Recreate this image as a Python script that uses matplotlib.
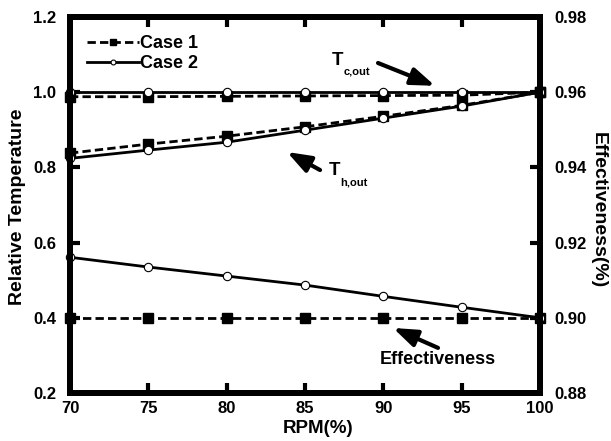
import matplotlib
matplotlib.use("Agg")
import matplotlib.pyplot as plt

plt.rcParams['font.family'] = ['Liberation Sans', 'DejaVu Sans']
plt.rcParams['font.weight'] = 'bold'

rpm = [70, 75, 80, 85, 90, 95, 100]
tc_case1 = [0.988, 0.988, 0.989, 0.990, 0.991, 0.992, 1.000]
tc_case2 = [1.000, 1.000, 1.000, 1.000, 1.000, 1.000, 1.000]
th_case1 = [0.838, 0.862, 0.883, 0.908, 0.936, 0.965, 1.000]
th_case2 = [0.824, 0.846, 0.867, 0.899, 0.931, 0.963, 1.000]
eff_case1 = [0.900, 0.900, 0.900, 0.900, 0.900, 0.900, 0.900]
eff_case2 = [0.9161, 0.9135, 0.9111, 0.9087, 0.9057, 0.9028, 0.900]

x_ticks = [70, 75, 80, 85, 90, 95, 100]
left_ticks = [0.2, 0.4, 0.6, 0.8, 1.0, 1.2]
right_ticks = [0.88, 0.90, 0.92, 0.94, 0.96, 0.98]

fig = plt.figure(figsize=(6.11, 4.41), dpi=100)
ax = fig.add_axes([70/611, 1-393/441, 470/611, 376/441])
ax2 = ax.twinx()

lw = 2.0
dash = (3, 1.5)
c1 = dict(color='black', lw=lw, dashes=dash, marker='s', markersize=6.5,
          markerfacecolor='black', markeredgecolor='black', clip_on=False)
c2 = dict(color='black', lw=lw, linestyle='-', marker='o', markersize=6,
          markerfacecolor='white', markeredgecolor='black', markeredgewidth=0.8,
          clip_on=False)

l1, = ax.plot(rpm, tc_case1, label='Case 1', **c1)
ax.plot(rpm, th_case1, **c1)
l2, = ax.plot(rpm, tc_case2, label='Case 2', **c2)
ax.plot(rpm, th_case2, **c2)
ax2.plot(rpm, eff_case1, **c1)
ax2.plot(rpm, eff_case2, **c2)

ax.set_xlim(70, 100)
ax.set_ylim(0.2, 1.2)
ax2.set_ylim(0.88, 0.98)
ax.set_xticks(x_ticks)
ax.set_xticklabels([str(v) for v in x_ticks])
ax.set_yticks(left_ticks)
ax.set_yticklabels([f"{v:.1f}" for v in left_ticks])
ax2.set_yticks(right_ticks)
ax2.set_yticklabels([f"{v:.2f}" for v in right_ticks])

for a in (ax, ax2):
    for s in a.spines.values():
        s.set_linewidth(4.3)

fs = 12
ax.tick_params(axis='x', direction='in', length=7, width=3, top=True, bottom=True,
               labelsize=fs, pad=6)
ax.tick_params(axis='y', direction='in', length=7, width=3, left=True, right=False,
               labelsize=fs, pad=10)
ax2.tick_params(axis='y', direction='in', length=7, width=3, left=False, right=True,
                labelsize=fs, pad=10)
for lab in ax.get_xticklabels() + ax.get_yticklabels() + ax2.get_yticklabels():
    lab.set_fontweight('bold')

ax.set_ylabel('Relative Temperature', fontsize=14, fontweight='bold')
ax.yaxis.set_label_coords(-0.094, 0.495)
fig.text(598.5/611, 1-210/441, 'Effectiveness(%)', fontsize=14, fontweight='bold',
         rotation=-90, ha='center', va='center')
ax.set_xlabel('RPM(%)', fontsize=13.5, fontweight='bold')
ax.xaxis.set_label_coords(0.527, -0.072)

leg = ax.legend(handles=[l1, l2], loc='upper left', frameon=False,
                bbox_to_anchor=(0.005, 0.99), handlelength=2.9,
                handletextpad=0.05, labelspacing=0.15, borderpad=0.3,
                prop={'weight': 'bold', 'size': 13})
for h in leg.legend_handles:
    if h.get_marker() == 's':
        h.set_markersize(4.5)
    else:
        h.set_markersize(3.5)

arrow = dict(arrowstyle='-|>,head_length=0.55,head_width=0.2', lw=3,
             color='black', mutation_scale=26, shrinkA=0, shrinkB=0)

# T_c,out
ax.annotate('', xy=(93.3, 1.017), xytext=(89.66, 1.0777), arrowprops=arrow)
ax.text(86.7, 1.072, 'T', fontsize=13.5, fontweight='bold', ha='left', va='baseline')
ax.text(87.45, 1.045, 'c,out', fontsize=8, fontweight='bold', ha='left', va='baseline')

# T_h,out
ax.annotate('', xy=(83.85, 0.841), xytext=(85.96, 0.793), arrowprops=arrow)
ax.text(86.5, 0.780, 'T', fontsize=13.5, fontweight='bold', ha='left', va='baseline')
ax.text(87.25, 0.752, 'h,out', fontsize=8, fontweight='bold', ha='left', va='baseline')

# Effectiveness
ax.annotate('', xy=(90.62, 0.373), xytext=(93.49, 0.320), arrowprops=arrow)
ax.text(93.49, 0.288, 'Effectiveness', fontsize=13, fontweight='bold',
        ha='center', va='center')

fig.savefig('out.png', dpi=100)
